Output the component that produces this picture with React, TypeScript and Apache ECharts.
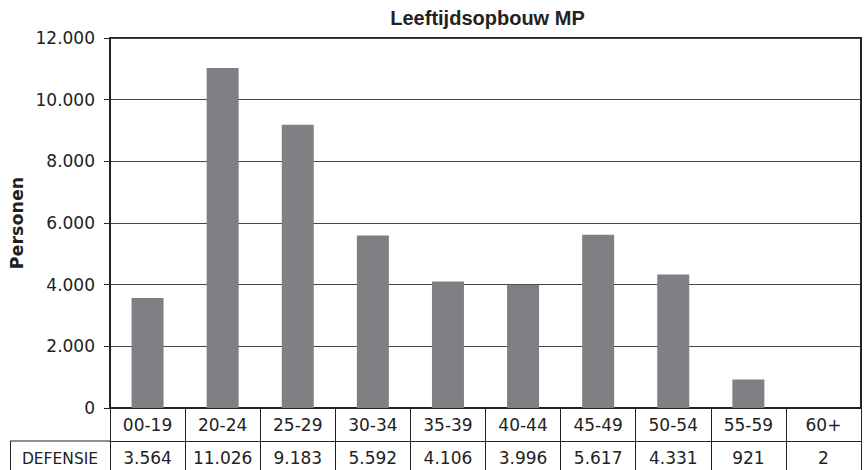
import React, { useEffect, useRef } from "react";
import * as echarts from "echarts";

const categories = ["00-19", "20-24", "25-29", "30-34", "35-39", "40-44", "45-49", "50-54", "55-59", "60+"];
const defensie = [3564, 11026, 9183, 5592, 4106, 3996, 5617, 4331, 921, 2];
const seriesName = "DEFENSIE";
const chartTitle = "Leeftijdsopbouw MP";
const yAxisTitle = "Personen";
const yMin = 0;
const yMax = 12000;
const yStep = 2000;

const fmt = (v: number) => String(Math.round(v)).replace(/\B(?=(\d{3})+(?!\d))/g, ".");

const W = 865;
const H = 470;
const GL = 110;
const GR = 861;
const GT = 38;
const GB = 408;
const ROW1 = 441;
const ROW2 = 472;
const FONT = "DejaVu Sans";
const LINE = "#222";
const TXT = "#222";

export default function App() {
  const ref = useRef<HTMLDivElement>(null);
  useEffect(() => {
    if (!ref.current) return;
    const chart = echarts.init(ref.current, undefined, { renderer: "svg" });
    chart.setOption({
      animation: false,
      backgroundColor: "#fff",
      grid: {
        left: GL,
        right: W - GR,
        top: GT,
        bottom: H - GB,
        show: true,
        borderColor: LINE,
        borderWidth: 2,
      },
      xAxis: [
        {
          type: "category",
          data: categories,
          position: "bottom",
          axisLine: { show: true, lineStyle: { color: LINE, width: 2 } },
          axisTick: { show: true, interval: 0, length: ROW1 - GB, lineStyle: { color: LINE, width: 1 } },
          axisLabel: { interval: 0, fontFamily: FONT, fontSize: 17, color: TXT, margin: 8 },
        },
        {
          type: "category",
          data: categories,
          position: "bottom",
          offset: ROW1 - GB,
          axisLine: { show: true, lineStyle: { color: LINE, width: 1 } },
          axisTick: { show: true, interval: 0, length: ROW2 - ROW1, lineStyle: { color: LINE, width: 1 } },
          axisLabel: {
            interval: 0,
            fontFamily: FONT,
            fontSize: 17,
            color: TXT,
            margin: 8,
            formatter: (_v: string, i: number) => fmt(defensie[i]),
          },
        },
      ],
      yAxis: {
        type: "value",
        min: yMin,
        max: yMax,
        interval: yStep,
        axisLine: { show: true, lineStyle: { color: LINE, width: 2 } },
        axisTick: { show: true, length: 6, lineStyle: { color: LINE, width: 1 } },
        axisLabel: { fontFamily: FONT, fontSize: 17, color: TXT, margin: 15, formatter: (v: number) => fmt(v) },
        splitLine: { show: true, lineStyle: { color: "#444", width: 1 } },
      },
      series: [
        {
          name: seriesName,
          type: "bar",
          data: defensie,
          barWidth: 32,
          itemStyle: { color: "#808084" },
          xAxisIndex: 0,
        },
      ],
      graphic: [
        {
          type: "text",
          x: (GL + GR) / 2 + 2,
          y: 18,
          style: {
            text: chartTitle,
            fontFamily: "Liberation Sans",
            fontWeight: "bold",
            fontSize: 20,
            fill: TXT,
            textAlign: "center",
            textVerticalAlign: "middle",
          },
        },
        {
          type: "text",
          x: 17,
          y: (GT + GB) / 2,
          rotation: Math.PI / 2,
          style: {
            text: yAxisTitle,
            fontFamily: FONT,
            fontWeight: "bold",
            fontSize: 17.5,
            fill: TXT,
            textAlign: "center",
            textVerticalAlign: "middle",
          },
        },
        {
          type: "line",
          shape: { x1: 10, y1: ROW1, x2: GL, y2: ROW1 },
          style: { stroke: LINE, lineWidth: 1 },
        },
        {
          type: "line",
          shape: { x1: 10.5, y1: ROW1, x2: 10.5, y2: ROW2 },
          style: { stroke: LINE, lineWidth: 1 },
        },
        {
          type: "text",
          x: (10 + GL) / 2,
          y: 459,
          style: {
            text: seriesName,
            fontFamily: FONT,
            fontSize: 15.5,
            fill: TXT,
            textAlign: "center",
            textVerticalAlign: "middle",
          },
        },
      ],
    });
    return () => chart.dispose();
  }, []);
  return <div ref={ref} style={{ width: W, height: H, position: "fixed", left: 0, top: 0 }} />;
}
